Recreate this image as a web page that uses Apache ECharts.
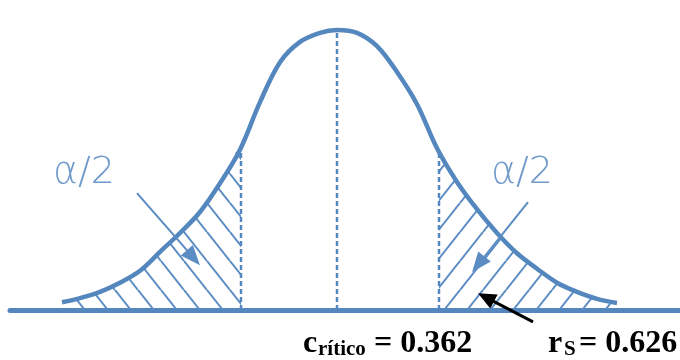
<!DOCTYPE html>
<html><head><meta charset="utf-8">
<script src="https://cdn.jsdelivr.net/npm/echarts@6/dist/echarts.min.js"></script>
<style>html,body{margin:0;padding:0;background:#fff}#c{width:680px;height:360px}</style>
</head><body><div id="c"></div>
<script>
// curve (x in sigma units, y density-like)
const curveX = [-2.75,-2.57,-2.37,-2.17,-1.97,-1.77,-1.57,-1.37,-1.17,-0.97,-0.77,-0.57,-0.37,-0.17,0,0.20,0.40,0.60,0.80,1.00,1.20,1.40,1.60,1.80,2.00,2.20,2.40,2.60,2.80];
const curveY = [0.011,0.017,0.026,0.039,0.056,0.083,0.110,0.140,0.181,0.229,0.297,0.354,0.383,0.396,0.400,0.396,0.377,0.340,0.294,0.231,0.183,0.144,0.110,0.081,0.059,0.039,0.026,0.016,0.010];
const criticalX = [-0.96, 1.02];
const criticalTop = [0.228, 0.224];
const centerX = 0;
const centerTop = 0.400;
const tailLabels = ['α/2', 'α/2'];
const bottomLabels = [['c','rítico','= 0.362'], ['r','S','= 0.626']];

const BLUE = '#5587bf';
function hatch(dir){
  const W=23,H=29;
  const c=document.createElement('canvas'); c.width=W; c.height=H;
  const g=c.getContext('2d'); g.strokeStyle='#5b8cc3'; g.lineWidth=2;
  for(let k=-1;k<=1;k++){
    g.beginPath();
    if(dir>0){g.moveTo(k*W,0);g.lineTo(k*W+W,H);} else {g.moveTo(k*W,H);g.lineTo(k*W+W,0);}
    g.stroke();
  }
  return c;
}
const curve = curveX.map((x,i)=>[x,curveY[i]]);
const leftTail = curve.filter(p=>p[0]<criticalX[0]).concat([[criticalX[0],criticalTop[0]]]);
const rightTail = [[criticalX[1],criticalTop[1]]].concat(curve.filter(p=>p[0]>criticalX[1]));

const chart = echarts.init(document.getElementById('c'), null, {renderer:'canvas'});
const dashed = (x,top)=>({type:'line',data:[[x,0],[x,top]],symbol:'none',silent:true,z:3,
  lineStyle:{color:BLUE,width:2.5,type:[5,3]}});
chart.setOption({
  animation:false,
  backgroundColor:'#fff',
  grid:{left:10,right:0,top:2,bottom:50},
  xAxis:{type:'value',min:-3.27,max:3.43,axisLine:{show:true,lineStyle:{color:BLUE,width:5}},
    axisTick:{show:false},axisLabel:{show:false},splitLine:{show:false}},
  yAxis:{type:'value',min:0,max:0.44,show:false},
  series:[
    {type:'line',data:leftTail,smooth:0.35,symbol:'none',lineStyle:{width:0},z:1,
      areaStyle:{color:{image:hatch(1),repeat:'repeat'},opacity:1}},
    {type:'line',data:rightTail,smooth:0.35,symbol:'none',lineStyle:{width:0},z:1,
      areaStyle:{color:{image:hatch(-1),repeat:'repeat'},opacity:1}},
    dashed(criticalX[0],criticalTop[0]),
    dashed(criticalX[1],criticalTop[1]),
    dashed(centerX,centerTop),
    {type:'line',data:curve,smooth:0.35,symbol:'none',z:5,lineStyle:{color:BLUE,width:4.5,cap:'butt'}}
  ]
});

// annotations (anchored in data space)
function px(p){return chart.convertToPixel({gridIndex:0},p);}
function arrow(from,to,color,w,len,half){
  const a=px(from), b=px(to);
  const dx=b[0]-a[0], dy=b[1]-a[1], L=Math.hypot(dx,dy), ux=dx/L, uy=dy/L;
  const bx=b[0]-ux*len, by=b[1]-uy*len;
  return [
    {type:'line',shape:{x1:a[0],y1:a[1],x2:bx+ux*2,y2:by+uy*2},style:{stroke:color,lineWidth:w},z:10},
    {type:'polygon',shape:{points:[[b[0],b[1]],[bx-uy*half,by+ux*half],[bx+uy*half,by-ux*half]]},style:{fill:color},z:10}
  ];
}
const g=[];
g.push(...arrow([-2.00,0.167],[-1.37,0.064],'#5b8cc3',2,20,8));
g.push(...arrow([1.91,0.154],[1.35,0.054],'#5b8cc3',2,20,8));
g.push(...arrow([1.96,-0.017],[1.41,0.024],'#000',3,18,8));
const LBLUE='#6f9acb';
const lf='200 38px "DejaVu Sans", "Liberation Sans", sans-serif';
g.push({type:'text',x:53,y:173,style:{text:tailLabels[0],font:lf,fill:LBLUE,verticalAlign:'middle'},z:10});
g.push({type:'text',x:491,y:173,style:{text:tailLabels[1],font:lf,fill:LBLUE,verticalAlign:'middle'},z:10});
const big='bold 32px "Liberation Serif"', small='bold 21px "Liberation Serif"';
g.push({type:'text',x:303,y:344,style:{text:bottomLabels[0][0],font:big,fill:'#000',verticalAlign:'middle'}});
g.push({type:'text',x:318,y:350,style:{text:bottomLabels[0][1],font:small,fill:'#000',verticalAlign:'middle'}});
g.push({type:'text',x:374,y:344,style:{text:bottomLabels[0][2],font:big,fill:'#000',verticalAlign:'middle'}});
g.push({type:'text',x:548,y:344,style:{text:bottomLabels[1][0],font:big,fill:'#000',verticalAlign:'middle'}});
g.push({type:'text',x:564,y:350,style:{text:bottomLabels[1][1],font:small,fill:'#000',verticalAlign:'middle'}});
g.push({type:'text',x:579,y:344,style:{text:bottomLabels[1][2],font:big,fill:'#000',verticalAlign:'middle'}});
chart.setOption({graphic:g});
</script></body></html>
